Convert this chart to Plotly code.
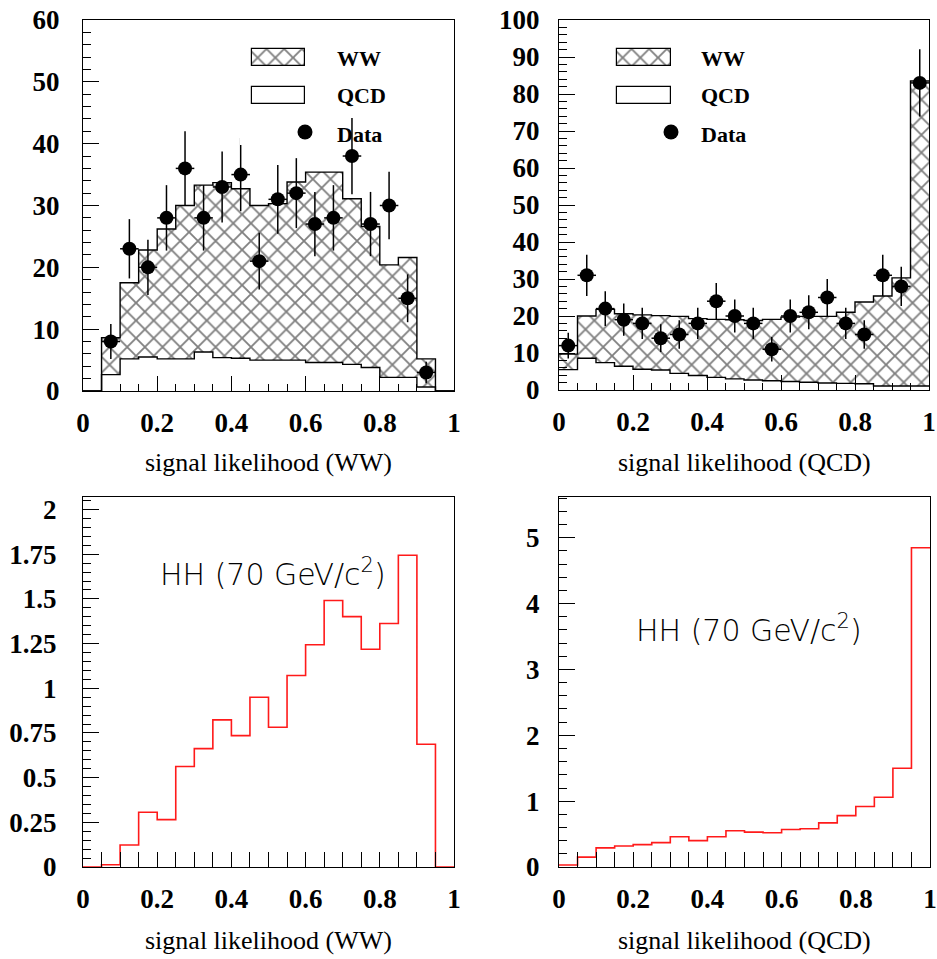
import numpy as np
import plotly.graph_objects as go

W, H = 937, 959

# ---------------- data ----------------
bin_edges = [0.0, 0.05, 0.1, 0.15, 0.2, 0.25, 0.3, 0.35, 0.4, 0.45, 0.5,
             0.55, 0.6, 0.65, 0.7, 0.75, 0.8, 0.85, 0.9, 0.95, 1.0]
bin_centers = [0.025, 0.075, 0.125, 0.175, 0.225, 0.275, 0.325, 0.375, 0.425, 0.475,
               0.525, 0.575, 0.625, 0.675, 0.725, 0.775, 0.825, 0.875, 0.925, 0.975]

# top-left: signal likelihood (WW)
ww_panel_total = [0, 8.6, 17.5, 22.8, 26.2, 30.0, 33.3, 33.7, 32.7, 30.0,
                  30.3, 33.8, 35.4, 35.4, 31.1, 26.6, 20.4, 21.6, 5.2, 0]
ww_panel_qcd = [0, 2.65, 5.2, 5.5, 5.2, 5.2, 6.3, 5.4, 5.3, 5.0,
                5.0, 5.0, 4.6, 4.6, 4.3, 3.8, 2.2, 2.2, 0.65, 0]
ww_panel_data = [None, 8, 23, 20, 28, 36, 28, 33, 35, 21,
                 31, 32, 27, 28, 38, 27, 30, 15, 3, None]

# top-right: signal likelihood (QCD)
qcd_panel_total = [9.7, 20.0, 21.8, 20.6, 20.3, 20.1, 19.9, 19.3, 19.1, 19.0,
                   18.8, 19.1, 19.7, 19.9, 19.9, 21.0, 23.8, 25.4, 30.3, 83.5]
qcd_panel_qcd = [5.5, 8.6, 7.4, 6.4, 5.6, 5.4, 4.5, 3.9, 3.4, 3.0,
                 2.7, 2.5, 2.3, 2.1, 1.9, 1.8, 1.7, 1.1, 1.1, 1.1]
qcd_panel_data = [12, 31, 22, 19, 18, 14, 15, 18, 24, 20,
                  18, 11, 20, 21, 25, 18, 15, 31, 28, 83]

# bottom: HH (70 GeV/c^2) signal
hh_ww = [0, 0.013, 0.123, 0.306, 0.265, 0.562, 0.662, 0.823, 0.735, 0.950,
         0.782, 1.071, 1.243, 1.491, 1.401, 1.218, 1.362, 1.744, 0.687, 0]
hh_qcd = [0.03, 0.15, 0.29, 0.32, 0.34, 0.37, 0.46, 0.40, 0.46, 0.55,
          0.53, 0.52, 0.57, 0.58, 0.67, 0.78, 0.92, 1.06, 1.50, 4.85]

bl_ticks = [0, 0.25, 0.5, 0.75, 1, 1.25, 1.5, 1.75, 2]
bl_ticktext = ["0", "0.25", "0.5", "0.75", "1", "1.25", "1.5", "1.75", "2"]

xtitle_ww = "signal likelihood (WW)"
xtitle_qcd = "signal likelihood (QCD)"
hh_label = "HH (70 GeV/c<sup>2</sup>)"
legend_labels = ["WW", "QCD", "Data"]

# ---------------- layout helpers ----------------
def px_x(x):
    return x / W

def px_y(y):
    return 1 - y / H

SERIF = "Liberation Serif"
tickfont = dict(family=SERIF, size=27, color="black", weight="bold")

panels = {
    1: dict(x=(83, 454), y=(20, 391)),
    2: dict(x=(559, 929), y=(20, 390)),
    3: dict(x=(83, 454), y=(497, 867)),
    4: dict(x=(559, 930), y=(497, 867)),
}

fig = go.Figure()
pattern = dict(shape="x", size=12.5, solidity=0.27, fgcolor="black", bgcolor="white")


def ax(n):
    return ("x" if n == 1 else f"x{n}", "y" if n == 1 else f"y{n}")


def add_stack(n, total, qcd, data):
    xa, ya = ax(n)
    tot = np.array(total, float)
    q = np.array(qcd, float)
    ww = tot - q
    fig.add_trace(go.Bar(x=bin_centers, y=q, width=0.05, marker=dict(color="white", line_width=0),
                         xaxis=xa, yaxis=ya, showlegend=False, hoverinfo="skip"))
    fig.add_trace(go.Bar(x=bin_centers, y=ww, base=q, width=0.05,
                         marker=dict(color="white", pattern=pattern, line_width=0),
                         xaxis=xa, yaxis=ya, showlegend=False))
    for arr in (tot, q):
        fig.add_trace(go.Scatter(x=bin_edges, y=list(arr) + [arr[-1]], mode="lines",
                                 line=dict(color="black", width=1.4, shape="hv"),
                                 xaxis=xa, yaxis=ya, showlegend=False, hoverinfo="skip"))
    d = np.array([np.nan if v is None else v for v in data], float)
    fig.add_trace(go.Scatter(x=bin_centers, y=d, mode="markers",
                             marker=dict(color="black", size=14),
                             error_y=dict(type="data", array=np.sqrt(np.nan_to_num(d)), color="black",
                                          thickness=1.5, width=0),
                             error_x=dict(type="constant", value=0.025, color="black",
                                          thickness=1.5, width=0),
                             xaxis=xa, yaxis=ya, showlegend=False))


def add_hh(n, vals):
    xa, ya = ax(n)
    fig.add_trace(go.Scatter(x=bin_edges, y=list(vals) + [vals[-1]], mode="lines",
                             line=dict(color="#ff1a1a", width=1.6, shape="hv"),
                             xaxis=xa, yaxis=ya, showlegend=False))


add_stack(1, ww_panel_total, ww_panel_qcd, ww_panel_data)
add_stack(2, qcd_panel_total, qcd_panel_qcd, qcd_panel_data)
add_hh(3, hh_ww)
add_hh(4, hh_qcd)

# axes
def xaxis_cfg(n, minor_len):
    p = panels[n]
    cfg = dict(domain=[px_x(p["x"][0]), px_x(p["x"][1])], range=[0, 1], automargin=False,
               anchor=ax(n)[1], showline=True, linecolor="black", linewidth=1.2, mirror=True,
               ticks="inside", ticklen=15, tickwidth=1.2, tickcolor="black",
               tick0=0, dtick=0.2, showgrid=False, zeroline=False,
               tickfont=tickfont, ticklabelstandoff=7,
               minor=dict(dtick=0.05, tick0=0, ticks="inside", ticklen=minor_len,
                          tickcolor="black", tickwidth=1.2, showgrid=False))
    return cfg


def yaxis_cfg(n, rng, dtick, minor_dtick, standoff, tickvals=None, ticktext=None):
    p = panels[n]
    cfg = dict(domain=[px_y(p["y"][1]), px_y(p["y"][0])], range=rng, automargin=False,
               anchor=ax(n)[0], showline=True, linecolor="black", linewidth=1.2, mirror=True,
               ticks="inside", ticklen=16, tickwidth=1.2, tickcolor="black",
               tick0=0, dtick=dtick, showgrid=False, zeroline=False,
               tickfont=tickfont, ticklabelstandoff=standoff,
               minor=dict(dtick=minor_dtick, tick0=0, ticks="inside", ticklen=8,
                          tickcolor="black", tickwidth=1.2, showgrid=False))
    if tickvals is not None:
        cfg.update(tickmode="array", tickvals=tickvals, ticktext=ticktext)
    return cfg


layout = dict(
    width=W, height=H, margin=dict(l=0, r=0, t=0, b=0, pad=0, autoexpand=False),
    paper_bgcolor="white", plot_bgcolor="white", barmode="overlay", bargap=0,
    showlegend=False,
    xaxis=xaxis_cfg(1, 7), xaxis2=xaxis_cfg(2, 7),
    xaxis3=xaxis_cfg(3, 15), xaxis4=xaxis_cfg(4, 15),
    yaxis=yaxis_cfg(1, [0, 60], 10, 2, 17),
    yaxis2=yaxis_cfg(2, [0, 100], 10, 2, 13),
    yaxis3=yaxis_cfg(3, [0, 2.07], 0.25, 0.05, 20, bl_ticks, bl_ticktext),
    yaxis4=yaxis_cfg(4, [0, 5.62], 1, 0.2, 13),
)
fig.update_layout(**layout)

# ---------------- custom legends (pixel-space helper axes) ----------------
def add_legend(n, x0, x1, box_cx, box_w, text_x):
    xa, ya = f"x{n}", f"y{n}"
    fig.update_layout(**{
        f"xaxis{n}": dict(domain=[px_x(x0), px_x(x1)], range=[x0, x1], visible=False, anchor=ya,
                          fixedrange=True, automargin=False),
        f"yaxis{n}": dict(domain=[px_y(145), px_y(40)], range=[145, 40], visible=False, anchor=xa,
                          fixedrange=True, automargin=False),
    })
    fig.add_trace(go.Bar(x=[box_cx], y=[17], base=[49], width=[box_w],
                         marker=dict(color="white", pattern=pattern, line=dict(color="black", width=1.2)),
                         xaxis=xa, yaxis=ya, showlegend=False, hoverinfo="skip"))
    fig.add_trace(go.Bar(x=[box_cx], y=[17], base=[87], width=[box_w],
                         marker=dict(color="white", line=dict(color="black", width=1.2)),
                         xaxis=xa, yaxis=ya, showlegend=False, hoverinfo="skip"))
    fig.add_trace(go.Scatter(x=[box_cx + box_w / 2], y=[132], mode="markers",
                             marker=dict(color="black", size=15), xaxis=xa, yaxis=ya,
                             showlegend=False, hoverinfo="skip"))
    for label, yc in zip(legend_labels, [58, 96, 134]):
        fig.add_annotation(x=px_x(text_x), y=px_y(yc), xref="paper", yref="paper",
                           xanchor="left", yanchor="middle", showarrow=False, text=label,
                           font=dict(family=SERIF, size=22, color="black", weight="bold"))


add_legend(5, 240, 320, 278.5, 53, 335)
add_legend(6, 605, 685, 644, 54, 699)

# ---------------- text ----------------
for cx, cy, t in [(268.5, 463, xtitle_ww), (744, 463, xtitle_qcd),
                  (268.5, 940, xtitle_ww), (744, 940, xtitle_qcd)]:
    fig.add_annotation(x=px_x(cx), y=px_y(cy), xref="paper", yref="paper",
                       xanchor="center", yanchor="middle", showarrow=False, text=t,
                       font=dict(family=SERIF, size=26, color="black"))

for lx, cy in [(158, 572), (634, 628)]:
    fig.add_annotation(x=px_x(lx), y=px_y(cy), xref="paper", yref="paper",
                       xanchor="left", yanchor="middle", showarrow=False, text=hh_label,
                       font=dict(family="DejaVu Sans", size=30, color="black", weight=200))

fig.write_html("out.html", config={"displayModeBar": False},
               post_script="document.body.style.margin='0';document.body.style.overflow='hidden';")
